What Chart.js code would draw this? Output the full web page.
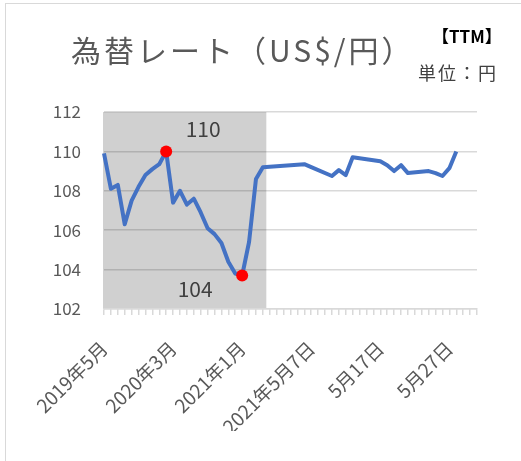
<!DOCTYPE html>
<html>
<head>
<meta charset="utf-8">
<script src="https://cdn.jsdelivr.net/npm/chart.js@4"></script>
<style>
  body { margin: 0; background: #fff; }
  #wrap { position: relative; width: 521px; height: 461px; overflow: hidden; }
  #frame { position: absolute; left: 5px; top: 3px; width: 600px; height: 600px;
           border-left: 1px solid #d9d9d9; border-top: 1px solid #d9d9d9; }
  .txt { position: absolute; font-family: "Noto Sans CJK JP", sans-serif; white-space: nowrap; }
  #title { left: 71px; top: 27px; font-size: 30px; color: #595959; letter-spacing: 3px; }
  #ttm { left: 432px; top: 23px; font-size: 17px; color: #000; font-weight: bold; }
  #unit { left: 418px; top: 59px; font-size: 18px; color: #404040; letter-spacing: 2px; }
</style>
</head>
<body>
<div id="wrap">
  <div id="frame"></div>
  <canvas id="myChart" width="521" height="461"></canvas>
  <div class="txt" id="title">為替レート（US$/円）</div>
  <div class="txt" id="ttm">【TTM】</div>
  <div class="txt" id="unit">単位：円</div>
</div>
<script>
// 月次（2019年5月〜2021年4月）
const months = ['2019年5月', '2019年6月', '2019年7月', '2019年8月', '2019年9月', '2019年10月',
    '2019年11月', '2019年12月', '2020年1月', '2020年2月', '2020年3月', '2020年4月',
    '2020年5月', '2020年6月', '2020年7月', '2020年8月', '2020年9月', '2020年10月',
    '2020年11月', '2020年12月', '2021年1月', '2021年2月', '2021年3月', '2021年4月'];
const monthlyRates = [109.9, 108.1, 108.3, 106.3, 107.5, 108.2, 108.8, 109.1, 109.35, 110.0,
    107.4, 108.0, 107.3, 107.6, 106.9, 106.1, 105.8, 105.35, 104.4, 103.8, 103.7, 105.4, 108.6, 109.2];

// 日次（2021年5月1日〜31日）、土日・祝日は空欄
const days = ['5月1日', '5月2日', '5月3日', '5月4日', '5月5日', '5月6日', '5月7日', '5月8日',
    '5月9日', '5月10日', '5月11日', '5月12日', '5月13日', '5月14日', '5月15日', '5月16日',
    '5月17日', '5月18日', '5月19日', '5月20日', '5月21日', '5月22日', '5月23日', '5月24日',
    '5月25日', '5月26日', '5月27日', '5月28日', '5月29日', '5月30日', '5月31日'];
const dailyRates = [null, null, null, null, null, 109.35, 109.2, null,
    null, 108.75, 109.05, 108.8, 109.7, 109.65, null, null,
    109.5, 109.3, 109.0, 109.3, 108.9, null, null, 109.0,
    108.9, 108.75, 109.15, 110.0, null, null, null];

// 10件ごとの目盛ラベル
const tickLabels = ['2019年5月', '2020年3月', '2021年1月', '2021年5月7日', '5月17日', '5月27日'];
const yTicks = [102, 104, 106, 108, 110, 112];

const labels = months.concat(days);
const rates = monthlyRates.concat(dailyRates);
const shadedCount = months.length;

const valid = rates.filter(v => v !== null);
const maxIdx = rates.indexOf(Math.max(...valid));
const minIdx = rates.indexOf(Math.min(...valid));

// 月次部分の背景（グレー）
const shadePlugin = {
    id: 'shade',
    beforeDraw(chart) {
        const { ctx, chartArea, scales } = chart;
        const x = scales.x;
        const edge = (x.getPixelForValue(shadedCount - 1) + x.getPixelForValue(shadedCount)) / 2;
        ctx.save();
        ctx.fillStyle = '#d0d0d0';
        ctx.fillRect(chartArea.left - 1, chartArea.top, edge - chartArea.left + 1, chartArea.bottom - chartArea.top);
        ctx.restore();
    }
};

// 最大・最小のラベル
const peakLabelPlugin = {
    id: 'peakLabels',
    afterDatasetsDraw(chart) {
        const { ctx } = chart;
        const pts = chart.getDatasetMeta(0).data;
        ctx.save();
        ctx.font = '21px "Noto Sans CJK JP", sans-serif';
        ctx.fillStyle = '#404040';
        ctx.textAlign = 'center';
        ctx.textBaseline = 'middle';
        ctx.fillText(Math.round(rates[maxIdx]), pts[maxIdx].x + 37, pts[maxIdx].y - 22);
        ctx.fillText(Math.round(rates[minIdx]), pts[minIdx].x - 47, pts[minIdx].y + 14);
        ctx.restore();
    }
};

const ctx = document.getElementById('myChart').getContext('2d');

new Chart(ctx, {
    type: 'line',
    data: {
        labels: labels,
        datasets: [{
            data: rates,
            borderColor: '#4472C4',
            borderWidth: 4,
            tension: 0,
            spanGaps: true,
            pointRadius: c => (c.dataIndex === maxIdx || c.dataIndex === minIdx) ? 6 : 0,
            pointBackgroundColor: '#ff0000',
            pointBorderWidth: 0,
            borderJoinStyle: 'round'
        }]
    },
    options: {
        responsive: false,
        animation: false,
        layout: { padding: { left: 44, right: 44, top: 112, bottom: 30 } },
        plugins: { legend: { display: false }, tooltip: { enabled: false } },
        scales: {
            x: {
                offset: false,
                afterFit: s => { s.height = 122; },
                border: { color: '#d9d9d9', width: 1.5 },
                grid: { drawOnChartArea: false, drawTicks: true, tickLength: 6, color: '#d9d9d9', lineWidth: 1.5 },
                ticks: {
                    autoSkip: false,
                    minRotation: 45,
                    maxRotation: 45,
                    padding: 22,
                    color: '#595959',
                    font: { family: '"Noto Sans CJK JP", sans-serif', size: 19 },
                    callback: (v, i) => i % 10 === 0 ? tickLabels[i / 10] : ''
                }
            },
            y: {
                min: yTicks[0],
                max: yTicks[yTicks.length - 1],
                afterFit: s => { s.width = 60; },
                afterBuildTicks: s => { s.ticks = yTicks.map(v => ({ value: v })); },
                border: { display: false },
                grid: { color: 'rgba(0,0,0,0.15)', lineWidth: 1.5, drawTicks: false },
                ticks: {
                    padding: 23,
                    color: '#595959',
                    font: { family: '"Noto Sans CJK JP", sans-serif', size: 17 }
                }
            }
        }
    },
    plugins: [shadePlugin, peakLabelPlugin]
});
</script>
</body>
</html>
